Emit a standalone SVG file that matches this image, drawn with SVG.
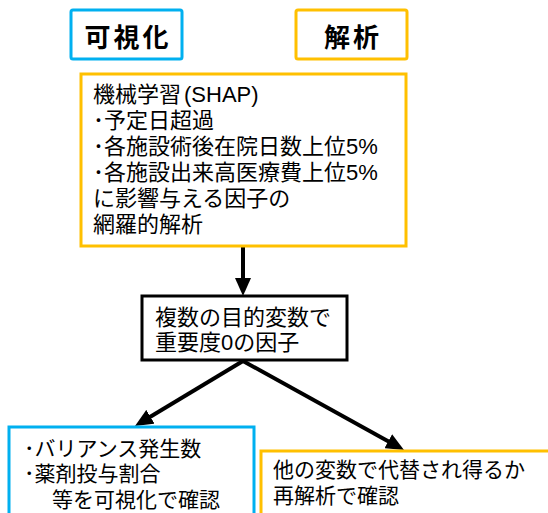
<svg xmlns="http://www.w3.org/2000/svg" width="548" height="513" viewBox="0 0 548 513">
<defs>
<style>
.t{font-family:"Liberation Sans","Noto Sans CJK JP",sans-serif;fill:#000}
.m{font-size:22px}
.s{font-size:21px}
.h{font-size:26px;font-weight:bold;letter-spacing:3px}
.blue{fill:#fff;stroke:#00B0F0;stroke-width:3}
.orange{fill:#fff;stroke:#FFC000;stroke-width:3}
.black{fill:#fff;stroke:#000;stroke-width:3}
.arr{stroke:#000;stroke-width:4;fill:none;marker-end:url(#ah)}
</style>
<marker id="ah" markerUnits="userSpaceOnUse" markerWidth="18" markerHeight="16" refX="4" refY="8" orient="auto">
<path d="M0,0 L18,8 L0,16 z" fill="#000"/>
</marker>
</defs>
<rect width="548" height="513" fill="#fff"/>
<g id="connectors">
<line class="arr" x1="243" y1="247" x2="243" y2="282"/>
<line class="arr" x1="243" y1="361" x2="147" y2="418.8"/>
<line class="arr" x1="243" y1="361" x2="391.75" y2="443.2"/>
</g>
<g id="title-visualize">
<rect class="blue" x="71" y="10" width="111" height="49" rx="2"/>
<text class="t h" x="128" y="47" text-anchor="middle">可視化</text>
</g>
<g id="title-analysis">
<rect class="orange" x="296" y="10" width="111" height="49" rx="2"/>
<text class="t h" x="353" y="47" text-anchor="middle">解析</text>
</g>
<g id="ml-box">
<rect class="orange" x="81" y="74" width="325" height="172"/>
<text class="t m" x="93" y="102">機械学習<tspan dx="3">(SHAP)</tspan></text>
<text class="t m" x="93" y="128">･予定日超過</text>
<text class="t m" x="93" y="154">･各施設術後在院日数上位5%</text>
<text class="t m" x="93" y="180">･各施設出来高医療費上位5%</text>
<text class="t m" x="93" y="206">に影響与える因子の</text>
<text class="t m" x="93" y="232">網羅的解析</text>
</g>
<g id="zero-box">
<rect class="black" x="142" y="296" width="205" height="64"/>
<text class="t m" x="155" y="325">複数の目的変数で</text>
<text class="t m" x="155" y="350">重要度0の因子</text>
</g>
<g id="visual-box">
<rect class="blue" x="9" y="427" width="245" height="100"/>
<text class="t s" x="24" y="456">･バリアンス発生数</text>
<text class="t s" x="24" y="481">･薬剤投与割合</text>
<text class="t s" x="52" y="507">等を可視化で確認</text>
</g>
<g id="reanalysis-box">
<rect class="orange" x="261" y="451" width="300" height="80"/>
<text class="t s" x="273" y="477">他の変数で代替され得るか</text>
<text class="t s" x="273" y="503">再解析で確認</text>
</g>
</svg>
